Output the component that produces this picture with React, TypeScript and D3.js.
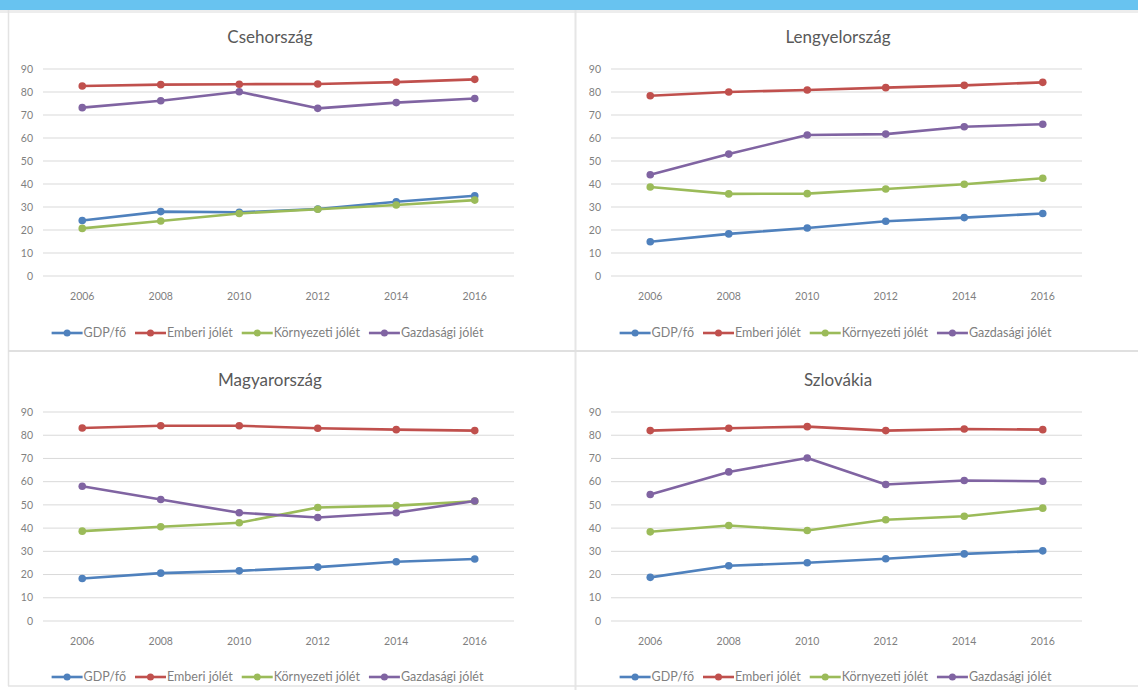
import React from "react";
import * as d3 from "d3";

const years = ["2006", "2008", "2010", "2012", "2014", "2016"];
const seriesNames = ["GDP/fő", "Emberi jólét", "Környezeti jólét", "Gazdasági jólét"];
const seriesColors = ["#4F81BD", "#C0504D", "#9BBB59", "#8064A2"];
const yTicks = [0, 10, 20, 30, 40, 50, 60, 70, 80, 90];

const czGdp = [24.1, 28.0, 27.7, 29.1, 32.3, 34.9];
const czHuman = [82.6, 83.2, 83.4, 83.5, 84.3, 85.5];
const czEnv = [20.7, 23.9, 27.2, 29.0, 30.9, 33.0];
const czEcon = [73.2, 76.2, 80.1, 72.9, 75.4, 77.2];

const plGdp = [14.9, 18.3, 20.9, 23.8, 25.4, 27.2];
const plHuman = [78.4, 80.0, 80.9, 81.9, 82.9, 84.2];
const plEnv = [38.7, 35.7, 35.8, 37.8, 39.9, 42.5];
const plEcon = [44.0, 53.0, 61.3, 61.7, 64.9, 66.0];

const huGdp = [18.3, 20.6, 21.6, 23.2, 25.5, 26.7];
const huHuman = [83.1, 84.1, 84.1, 83.0, 82.4, 82.0];
const huEnv = [38.7, 40.6, 42.3, 48.9, 49.7, 51.6];
const huEcon = [58.0, 52.3, 46.6, 44.6, 46.6, 51.7];

const skGdp = [18.8, 23.8, 25.1, 26.8, 28.9, 30.2];
const skHuman = [82.0, 83.0, 83.7, 82.0, 82.7, 82.4];
const skEnv = [38.4, 41.1, 39.0, 43.6, 45.1, 48.6];
const skEcon = [54.5, 64.2, 70.2, 58.8, 60.5, 60.2];

const panels = [
  { title: "Csehország", data: [czGdp, czHuman, czEnv, czEcon], ox: 0, oy: 0 },
  { title: "Lengyelország", data: [plGdp, plHuman, plEnv, plEcon], ox: 568, oy: 0 },
  { title: "Magyarország", data: [huGdp, huHuman, huEnv, huEcon], ox: 0, oy: 345 },
  { title: "Szlovákia", data: [skGdp, skHuman, skEnv, skEcon], ox: 568, oy: 345 },
];

const FONT = "Lato, 'Open Sans', sans-serif";
const TEXT = "#595959";

function measure(text: string, size: number): number {
  if (typeof document === "undefined") return text.length * size * 0.5;
  const c = document.createElement("canvas").getContext("2d");
  if (!c) return text.length * size * 0.5;
  c.font = `${size}px Lato`;
  return c.measureText(text).width;
}

function Panel({ p }: { p: (typeof panels)[number] }) {
  const top = p.oy === 0;
  const x0 = p.ox + 43;
  const x1 = p.ox + 514;
  const yTop = top ? 69 : 412;
  const yBot = top ? 276 : 621;
  const x = d3.scaleBand<string>().domain(years).range([x0, x1]);
  const y = d3.scaleLinear().domain([0, 90]).range([yBot, yTop]);
  const line = d3
    .line<number>()
    .x((_, i) => (x(years[i]) as number) + x.bandwidth() / 2)
    .y((v) => y(v));
  const titleY = top ? 43 : 386;
  const xLabY = yBot + 20;
  const legY = top ? 333 : 677;
  const legSize = 12.5;
  const sample = 31;
  const widths = seriesNames.map((n) => sample + 1 + measure(n, legSize) + 9);
  const total = d3.sum(widths);
  const legCenter = p.ox + 272;
  let cur = legCenter - total / 2;
  const starts = widths.map((w) => {
    const s = cur;
    cur += w;
    return s;
  });
  return (
    <g>
      <text
        x={p.ox + 270}
        y={titleY}
        textAnchor="middle"
        fontFamily={FONT}
        fontSize={17}
        fill={TEXT}
      >
        {p.title}
      </text>
      {yTicks.map((t) => (
        <g key={t}>
          <line x1={x0} x2={x1} y1={y(t)} y2={y(t)} stroke="#D9D9D9" strokeWidth={1} />
          <text
            x={x0 - 10}
            y={y(t)}
            dy="0.35em"
            textAnchor="end"
            fontFamily={FONT}
            fontSize={10.5}
            fill="#7F7F7F"
          >
            {t}
          </text>
        </g>
      ))}
      {years.map((yr) => (
        <text
          key={yr}
          x={(x(yr) as number) + x.bandwidth() / 2}
          y={xLabY}
          dy="0.35em"
          textAnchor="middle"
          fontFamily={FONT}
          fontSize={10.5}
          fill="#7F7F7F"
        >
          {yr}
        </text>
      ))}
      {p.data.map((s, si) => (
        <g key={si}>
          <path d={line(s) || ""} fill="none" stroke={seriesColors[si]} strokeWidth={2.6} strokeLinejoin="round" />
          {s.map((v, i) => (
            <circle
              key={i}
              cx={(x(years[i]) as number) + x.bandwidth() / 2}
              cy={y(v)}
              r={3.8}
              fill={seriesColors[si]}
            />
          ))}
        </g>
      ))}
      {seriesNames.map((n, si) => (
        <g key={n}>
          <line
            x1={starts[si]}
            x2={starts[si] + sample}
            y1={legY}
            y2={legY}
            stroke={seriesColors[si]}
            strokeWidth={2.6}
          />
          <circle cx={starts[si] + sample / 2} cy={legY} r={3.5} fill={seriesColors[si]} />
          <text
            x={starts[si] + sample + 1}
            y={legY}
            dy="0.35em"
            fontFamily={FONT}
            fontSize={legSize}
            fill="#7F7F7F"
          >
            {n}
          </text>
        </g>
      ))}
    </g>
  );
}

export default function App() {
  return (
    <svg
      width={1138}
      height={690}
      style={{ position: "absolute", left: 0, top: 0, background: "#fff" }}
    >
      <rect x={0} y={0} width={1138} height={690} fill="#fff" />
      <rect x={0} y={10} width={1138} height={3} fill="#EDEDED" />
      <rect x={0} y={0} width={1138} height={10} fill="#68C3F0" />
      <line x1={8.5} x2={8.5} y1={10} y2={686} stroke="#E3E3E3" strokeWidth={1.5} />
      <line x1={575.5} x2={575.5} y1={10} y2={690} stroke="#E6E6E6" strokeWidth={2} />
      <line x1={8} x2={1138} y1={351} y2={351} stroke="#E0E0E0" strokeWidth={2} />
      <line x1={8} x2={1138} y1={686} y2={686} stroke="#E3E3E3" strokeWidth={1.5} />
      {panels.map((p) => (
        <Panel key={p.title} p={p} />
      ))}
    </svg>
  );
}
